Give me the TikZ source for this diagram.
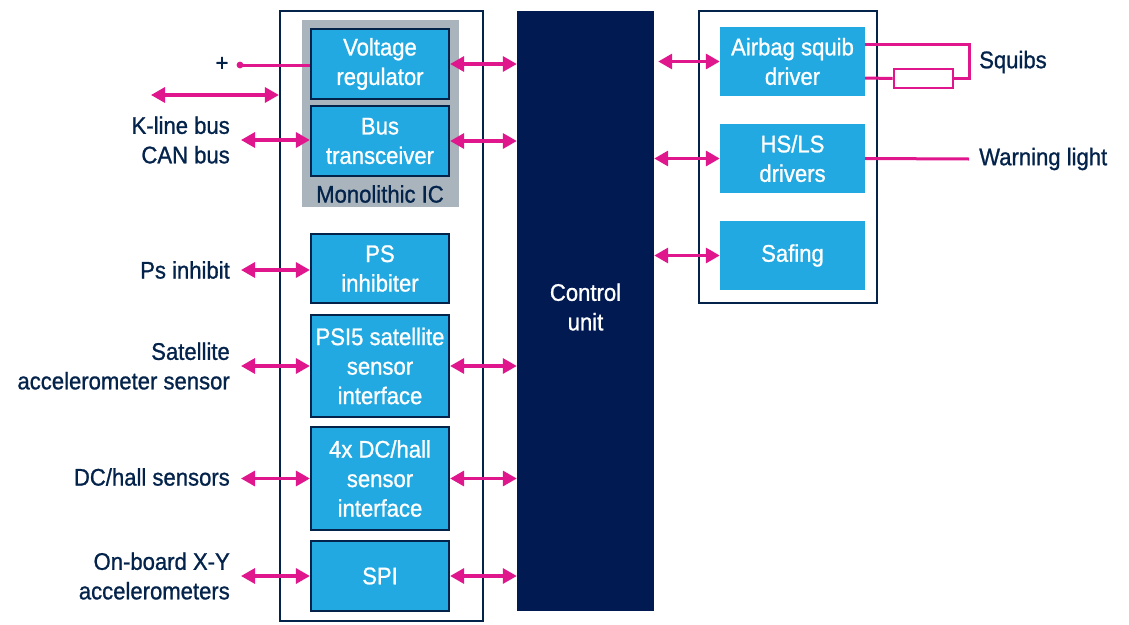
\documentclass[tikz,border=0pt]{standalone}
\usepackage{fontspec}
\setmainfont[FakeStretch=0.92,FakeBold=1]{Liberation Sans}
\usetikzlibrary{arrows.meta}
\definecolor{navy}{HTML}{03234B}
\definecolor{cublue}{HTML}{011A52}
\definecolor{stblue}{HTML}{22A9E1}
\definecolor{pinkc}{HTML}{E0168C}
\definecolor{icgray}{HTML}{A9B4BD}
\newcommand\dfont{\fontsize{24}{29.5}\selectfont}
\begin{document}
\begin{tikzpicture}[x=1pt,y=-1pt,
  lbox/.style={draw=navy,line width=2.2pt,fill=stblue,text=white,minimum width=138pt,align=center,inner sep=0pt,font=\dfont},
  rbox/.style={fill=stblue,text=white,minimum width=145pt,minimum height=69pt,align=center,inner sep=0pt,font=\dfont},
  frame/.style={draw=navy,line width=2.2pt},
  lab/.style={text=navy,font=\dfont,inner sep=0pt},
  conn/.style={draw=pinkc,line width=3.2pt,{Triangle[length=14pt,width=15pt]}-{Triangle[length=14pt,width=15pt]}},
  wire/.style={draw=pinkc,line width=3pt}
]
\useasboundingbox (0,0) rectangle (1129,624);
% frames
\node[frame,minimum width=203pt,minimum height=610pt,inner sep=0pt] (outl) at (381.5,316) {};
\node[fill=icgray,minimum width=157pt,minimum height=187pt,inner sep=0pt] (ic) at (380.5,113.5) {};
\node[lab,anchor=center] (icl) at (380,194) {Monolithic IC};
\node[fill=cublue,minimum width=137pt,minimum height=600pt,inner sep=0pt] (cu) at (585.5,311) {};
\node[font=\dfont,text=white,align=center,inner sep=0pt] (cul) at (585.5,307) {Control\\unit};
\node[frame,minimum width=178pt,minimum height=292pt,inner sep=0pt] (outr) at (788,157) {};
% left boxes
\node[lbox,minimum height=70pt] (vr) at (380,64) {Voltage\\regulator};
\node[lbox,minimum height=70pt] (bt) at (380,141) {Bus\\transceiver};
\node[lbox,minimum height=69pt] (ps) at (380,268.5) {PS\\inhibiter};
\node[lbox,minimum height=102pt] (psi) at (380,366) {PSI5 satellite\\sensor\\interface};
\node[lbox,minimum height=103pt] (dc) at (380,478.5) {4x DC/hall\\sensor\\interface};
\node[lbox,minimum height=70pt] (spi) at (380,576) {SPI};
% right boxes
\node[rbox] (ab) at (792.5,61.5) {Airbag squib\\driver};
\node[rbox] (hs) at (792.5,158.5) {HS/LS\\drivers};
\node[rbox] (sf) at (792.5,255.5) {Safing};
% left labels
\node[lab,anchor=east,align=right] (lkl) at (230,140) {K-line bus\\CAN bus};
\node[lab,anchor=east,align=right] (lps) at (230,270) {Ps inhibit};
\node[lab,anchor=east,align=right] (lsat) at (230,366) {Satellite\\accelerometer sensor};
\node[lab,anchor=east,align=right] (ldc) at (230,477) {DC/hall sensors};
\node[lab,anchor=east,align=right] (lob) at (230,576) {On-board X-Y\\accelerometers};
\node[lab] (plus) at (222,64) {+};
\node[lab,anchor=west] (sq) at (979,62) {Squibs};
\node[lab,anchor=west] (wl) at (979,159) {Warning light};
% free ends
\coordinate (kla) at (151,95);
\coordinate (pdot) at (240,65);
\coordinate (ebt) at (241,140);
\coordinate (eps) at (241,270);
\coordinate (epsi) at (241,366);
\coordinate (edc) at (241,478.5);
\coordinate (espi) at (241,576);
% connectors left
\draw[conn] (kla) -- (kla -| outl.west);
\fill[pinkc] (pdot) circle (3.4pt);
\draw[wire] (pdot) -- (pdot -| vr.west);
\draw[conn] (ebt) -- (ebt -| bt.west);
\draw[conn] (eps) -- (eps -| ps.west);
\draw[conn] (epsi) -- (psi.west);
\draw[conn] (edc) -- (dc.west);
\draw[conn] (espi) -- (spi.west);
% to control unit
\draw[conn] (vr.east) -- (vr.east -| cu.west);
\draw[conn] (bt.east) -- (bt.east -| cu.west);
\draw[conn] (psi.east) -- (psi.east -| cu.west);
\draw[conn] (dc.east) -- (dc.east -| cu.west);
\draw[conn] (spi.east) -- (spi.east -| cu.west);
% control unit to right
\draw[conn] ([xshift=4pt]ab.west -| cu.east) -- (ab.west);
\draw[conn] (hs.west -| cu.east) -- (hs.west);
\draw[conn] (sf.west -| cu.east) -- (sf.west);
% squibs
\node[draw=pinkc,line width=2.6pt,minimum width=59pt,minimum height=19pt,inner sep=0pt] (res) at (923.5,78.5) {};
\coordinate (sqc) at (969,44);
\draw[wire] ([yshift=17.5pt]ab.east) -- (sqc) -- (sqc |- res.east) -- (res.east);
\draw[wire] ([yshift=-16.5pt]ab.east) -- (res.west);
\coordinate (wle) at (969,159);
\draw[wire] (hs.east) -- (wle);
\end{tikzpicture}
\end{document}
